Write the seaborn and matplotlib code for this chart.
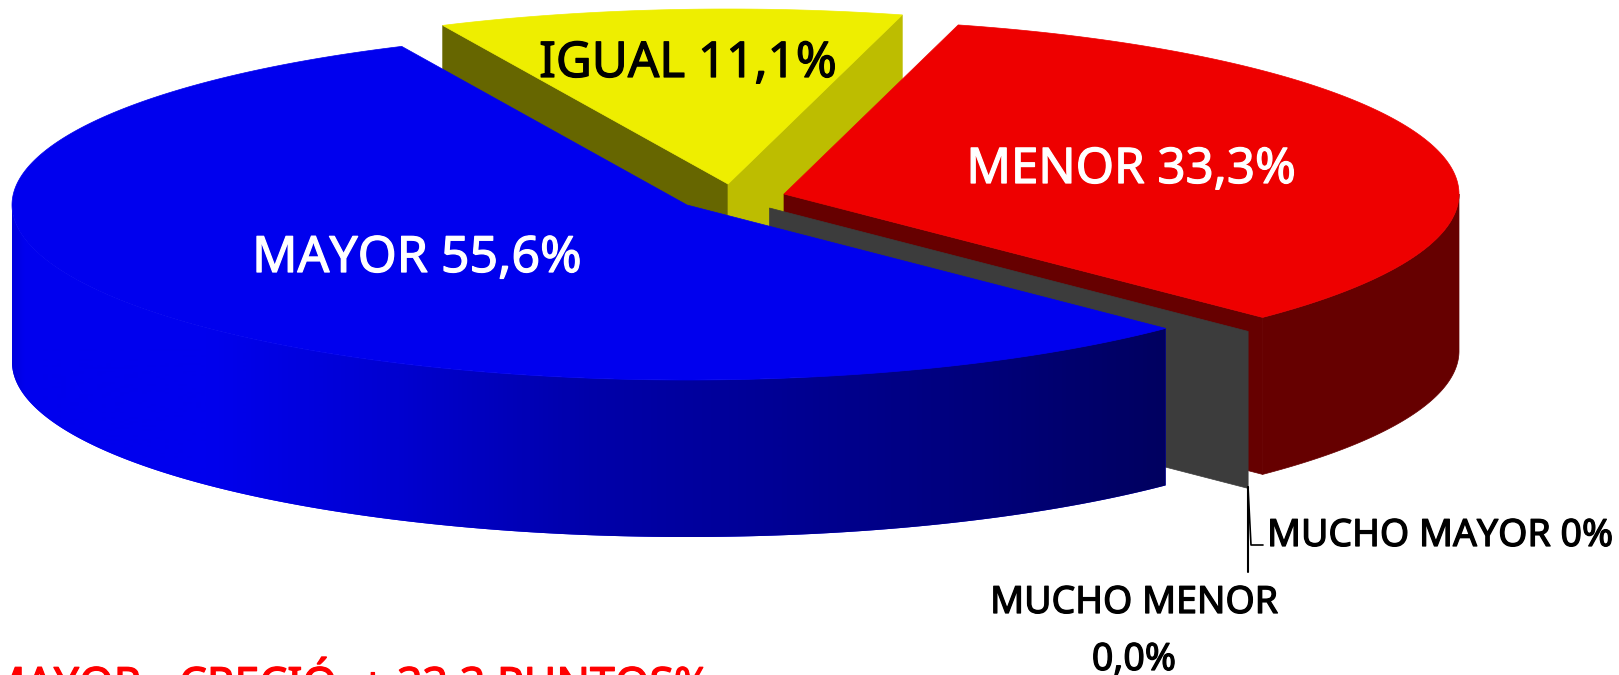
import numpy as np
import matplotlib
matplotlib.use("Agg")
import matplotlib.pyplot as plt
import matplotlib.patheffects as pe
import seaborn as sns

categories = ["MAYOR", "IGUAL", "MENOR", "MUCHO MENOR", "MUCHO MAYOR"]
values = [55.6, 11.1, 33.3, 0.0, 0.0]
labels = ["MAYOR 55,6%", "IGUAL 11,1%", "MENOR 33,3%", "0,0%", "MUCHO MAYOR 0%"]
note = "MAYOR - CRECIÓ  + 33,3 PUNTOS%"

top_colors = ["#0000EE", "#EEEE00", "#EE0000", "#3C3C3C", "#3C3C3C"]
wall_colors = ["#000066", "#BDBD00", "#660000", "#3C3C3C", "#3C3C3C"]

# pie geometry, in pixels of the picture
rx, ry, depth = 675, 175, 157
start = 115.0
offsets = [(687, 205), (728, 184), (784, 194), (769.5, 208), (769.5, 208)]

sns.set_style("white")
plt.rcParams["font.family"] = ["Noto Sans", "DejaVu Sans"]

fig = plt.figure(figsize=(16.19, 6.75), dpi=100)
ax = fig.add_axes([0, 0, 1, 1])
ax.set_axis_off()


def rim(center, a0, a1, n=200):
    t = np.radians(np.linspace(a0, a1, n))
    return center[0] + rx * np.cos(t), center[1] - ry * np.sin(t)


def cut_face(center, angle, color, z):
    t = np.radians(angle)
    x = center[0] + rx * np.cos(t)
    y = center[1] - ry * np.sin(t)
    ax.fill([center[0], x, x, center[0]],
            [center[1], y, y + depth, center[1] + depth],
            color=color, lw=0.5, zorder=z)


# slice angles come from the values, going clockwise for the small ones
sweep = [v / 100 * 360 for v in values]
blue_a0, blue_a1 = start, start + sweep[0]
yellow_a0, yellow_a1 = start - sweep[1], start
red_a0, red_a1 = yellow_a0 - sweep[2], yellow_a0

# yellow
cut_face(offsets[1], yellow_a1, "#666600", 1)
cut_face(offsets[1], yellow_a0, wall_colors[1], 1)
x, y = rim(offsets[1], yellow_a0, yellow_a1)
ax.fill(np.r_[offsets[1][0], x], np.r_[offsets[1][1], y], color=top_colors[1], lw=0.5, zorder=2)

# red
cut_face(offsets[2], red_a0, wall_colors[2], 3)
x, y = rim(offsets[2], red_a0, 0)
ax.fill(np.r_[x, x[::-1]], np.r_[y, y[::-1] + depth], color=wall_colors[2], lw=0.5, zorder=3)
x, y = rim(offsets[2], red_a0, red_a1)
ax.fill(np.r_[offsets[2][0], x], np.r_[offsets[2][1], y], color=top_colors[2], lw=0.5, zorder=4)

# zero slices only show as a grey cut face
cut_face(offsets[3], red_a0, top_colors[3], 5)

# blue wall, shaded left to right with a gradient image clipped to the wall
x, y = rim(offsets[0], 180, blue_a1, 400)
x0, x1 = x[0], x[-1]
n = int(x1 - x0)
stops = ["#0000EE", "#0000EE", "#0000D0", "#0000AA", "#000094", "#00007C", "#000060"]
shade = np.array(sns.blend_palette(stops, n))[:, :3]
shade[:13] = np.array(sns.blend_palette(["#0000DC", "#0000EE"], 13))[:, :3]
wall = ax.fill(np.r_[x, x[::-1]], np.r_[y, y[::-1] + depth], color="#0000EE", lw=0, zorder=6)[0]
img = ax.imshow(shade[np.newaxis, :, :], extent=(x0, x1, 600, 100), aspect="auto", zorder=6.5)
img.set_clip_path(wall)

x, y = rim(offsets[0], blue_a0, blue_a1, 400)
ax.fill(np.r_[offsets[0][0], x], np.r_[offsets[0][1], y], color=top_colors[0], lw=0.5, zorder=7)

# imshow resets the limits, so set them here
ax.set_xlim(0, 1619)
ax.set_ylim(675, 0)

# leader lines for the zero slices
ax.plot([1248, 1248], [487, 572], color="black", lw=1.5, zorder=8)
ax.plot([1248, 1251, 1263], [487, 545, 545], color="black", lw=1.2, zorder=8)


def put(px, py, s, color, size, ha="center", stroke=0.9):
    t = ax.text(px, py, s, color=color, fontsize=size, ha=ha, va="baseline", zorder=9)
    t.set_path_effects([pe.withStroke(linewidth=stroke, foreground=color)])


put(417, 272, labels[0], "white", 36)
put(688, 77, labels[1], "black", 35.5)
put(1131, 183, labels[2], "white", 35.4)
put(1134, 613, categories[3], "black", 27)
put(1134, 670, labels[3], "black", 27)
put(1267, 546, labels[4], "black", 27, ha="left")
put(710, 699, note, "#FF0000", 32, ha="right")

fig.savefig("out.png", dpi=100, facecolor="white")
